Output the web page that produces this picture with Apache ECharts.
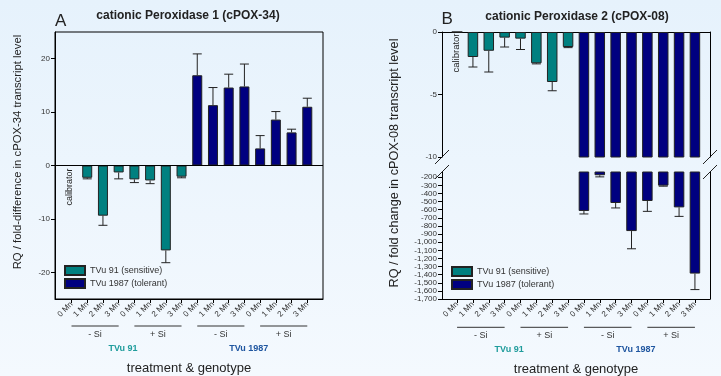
<!DOCTYPE html>
<html>
<head>
<meta charset="utf-8">
<script src="https://cdn.jsdelivr.net/npm/echarts@6/dist/echarts.min.js"></script>
<style>html,body{margin:0;padding:0;}#c{width:721px;height:376px;}</style>
</head>
<body>
<div id="c"></div>
<script>
// ---------- data ----------
const categories = ['0 Mn','1 Mn','2 Mn','3 Mn','0 Mn','1 Mn','2 Mn','3 Mn','0 Mn','1 Mn','2 Mn','3 Mn','0 Mn','1 Mn','2 Mn','3 Mn'];
const treatments = ['- Si', '+ Si', '- Si', '+ Si'];
const genotypes = ['TVu 91', 'TVu 1987'];
const seriesNames = ['TVu 91 (sensitive)', 'TVu 1987 (tolerant)'];

// cPOX-34 (panel A): RQ / fold-difference, TVu 91 = categories 0-7, TVu 1987 = 8-15
const cpox34Sensitive   = [0, -2.3, -9.4, -1.3, -2.6, -2.8, -15.9, -2.1];
const cpox34SensitiveSd = [0, 0.2, 1.8, 1.2, 0.6, 0.6, 2.3, 0.2];
const cpox34Tolerant    = [16.9, 11.3, 14.6, 14.8, 3.2, 8.6, 6.2, 11.0];
const cpox34TolerantSd  = [4.0, 3.3, 2.5, 4.2, 2.4, 1.5, 0.6, 1.6];

// cPOX-08 (panel B): RQ / fold change
const cpox08Sensitive   = [0, -2.0, -1.5, -0.45, -0.53, -2.5, -4.0, -1.2];
const cpox08SensitiveSd = [0, 0.8, 1.7, 0.75, 0.87, 0.05, 0.7, 0.05];
const cpox08Tolerant    = [-615, -175, -517, -863, -492, -303, -571, -1387];
const cpox08TolerantSd  = [37, 20, 61, 218, 128, 7, 111, 197];

// axis ticks
const ticksA = [-20, -10, 0, 10, 20];
const ticksBTop = [0, -5, -10];
const ticksBBottom = [-200,-300,-400,-500,-600,-700,-800,-900,-1000,-1100,-1200,-1300,-1400,-1500,-1600,-1700];
const catIdx = categories.map((c, i) => i);

// ---------- styles ----------
const FONT = '"Liberation Sans", Arial, Helvetica, sans-serif';
const TEAL = '#008080';
const NAVY = '#000080';
const INK = '#222';

const barData = (vals, off) => vals.map((v, i) => [i + off, v]);
const errData = (vals, sds, off) => vals.map((v, i) => [i + off, v, v + Math.sign(v) * sds[i]]).filter((d, i) => sds[i] > 0);

function renderErr(params, api) {
  const x = api.value(0), v = api.value(1), e = api.value(2);
  const a = api.coord([x, v]), b = api.coord([x, e]);
  const cap = 4.5;
  return { type: 'group', children: [
    { type: 'line', shape: { x1: a[0], y1: a[1], x2: b[0], y2: b[1] }, style: { stroke: INK, lineWidth: 1 } },
    { type: 'line', shape: { x1: b[0] - cap, y1: b[1], x2: b[0] + cap, y2: b[1] }, style: { stroke: INK, lineWidth: 1 } }
  ]};
}

const lineStyle = { color: '#000', width: 1 };
const labelStyle = { fontSize: 8, color: '#333', fontFamily: FONT };

function catXAxis(gridIndex, min, max) {
  return {
    type: 'value', gridIndex, min, max, position: 'bottom',
    axisLine: { show: true, onZero: false, lineStyle },
    axisTick: { show: true, customValues: catIdx, length: 4, lineStyle },
    axisLabel: Object.assign({ show: true, customValues: catIdx, rotate: 45, margin: 4, formatter: v => categories[v] }, labelStyle),
    splitLine: { show: false }
  };
}
function plainAxis(extra) {
  return Object.assign({
    type: 'value',
    axisLine: { show: true, onZero: false, lineStyle },
    axisTick: { show: false }, axisLabel: { show: false }, splitLine: { show: false }
  }, extra);
}
function valYAxis(gridIndex, min, max, ticks) {
  return {
    type: 'value', gridIndex, min, max, position: 'left',
    axisLine: { show: true, onZero: false, lineStyle },
    axisTick: { show: true, customValues: ticks, length: 4, lineStyle },
    axisLabel: Object.assign({ show: true, customValues: ticks, margin: 5 }, labelStyle),
    splitLine: { show: false }
  };
}

const barCommon = (name, color, xi, yi, data, bw) => ({
  type: 'bar', name, xAxisIndex: xi, yAxisIndex: yi, data,
  barWidth: bw, barGap: '-100%', clip: true, silent: true,
  itemStyle: { color, borderColor: '#222', borderWidth: 1 },
  animation: false
});
const errCommon = (xi, yi, data) => ({
  type: 'custom', xAxisIndex: xi, yAxisIndex: yi, data, renderItem: renderErr,
  clip: true, silent: true, z: 3, animation: false
});

const chart = echarts.init(document.getElementById('c'), null, { renderer: 'canvas' });

const option = {
  animation: false,
  backgroundColor: { type: 'linear', x: 0, y: 0, x2: 0, y2: 1, colorStops: [
    { offset: 0, color: '#e6f2fc' }, { offset: 1, color: '#f4f9fe' } ] },
  textStyle: { fontFamily: FONT },
  grid: [
    { left: 55, top: 32, width: 268, height: 267, show: true, borderColor: '#000', borderWidth: 1, backgroundColor: 'transparent', outerBoundsMode: 'none' },
    { left: 442, top: 32, width: 268, height: 125, outerBoundsMode: 'none' },
    { left: 442, top: 172, width: 268, height: 127, outerBoundsMode: 'none' }
  ],
  xAxis: [
    catXAxis(0, -1.05, 16),
    plainAxis({ gridIndex: 1, min: -0.95, max: 15.95, position: 'top' }),
    catXAxis(2, -0.95, 15.95)
  ],
  yAxis: [
    valYAxis(0, -25, 25, ticksA),
    valYAxis(1, -10, 0, ticksBTop),
    plainAxis({ gridIndex: 1, min: -10, max: 0, position: 'right' }),
    valYAxis(2, -1700, -135, ticksBBottom),
    plainAxis({ gridIndex: 2, min: -1700, max: -135, position: 'right' })
  ],
  legend: [
    { left: 64, top: 265, orient: 'vertical', itemWidth: 20, itemHeight: 9, itemGap: 2, icon: 'rect',
      data: seriesNames, textStyle: { fontSize: 9, color: '#333', fontFamily: FONT }, selectedMode: false, padding: 0 },
    { left: 451, top: 266, orient: 'vertical', itemWidth: 20, itemHeight: 9, itemGap: 2, icon: 'rect',
      data: seriesNames, textStyle: { fontSize: 9, color: '#333', fontFamily: FONT }, selectedMode: false, padding: 0 }
  ],
  series: [
    Object.assign(barCommon(seriesNames[0], TEAL, 0, 0, barData(cpox34Sensitive, 0), 10), {
      markLine: { silent: true, symbol: ['none', 'none'], label: { show: false },
        lineStyle: { color: '#000', type: 'solid', width: 1 }, data: [{ yAxis: 0 }], animation: false }
    }),
    barCommon(seriesNames[1], NAVY, 0, 0, barData(cpox34Tolerant, 8), 10),
    errCommon(0, 0, errData(cpox34Sensitive, cpox34SensitiveSd, 0)),
    errCommon(0, 0, errData(cpox34Tolerant, cpox34TolerantSd, 8)),

    barCommon(seriesNames[0], TEAL, 1, 1, barData(cpox08Sensitive, 0), 10.5),
    barCommon(seriesNames[1], NAVY, 1, 1, barData(cpox08Tolerant, 8), 10.5),
    errCommon(1, 1, errData(cpox08Sensitive, cpox08SensitiveSd, 0)),

    barCommon(seriesNames[1], NAVY, 2, 3, barData(cpox08Tolerant, 8), 10.5),
    errCommon(2, 3, errData(cpox08Tolerant, cpox08TolerantSd, 8))
  ]
};
chart.setOption(option);

// ---------- annotations derived from axes ----------
const gx = (xi, v) => chart.convertToPixel({ xAxisIndex: xi }, v);
const gy = (yi, v) => chart.convertToPixel({ yAxisIndex: yi }, v);
const txt = (x, y, text, o) => ({ type: 'text', x, y, rotation: (o && o.rotation) || 0, silent: true,
  style: { text, fill: (o && o.fill) || INK, font: (o && o.font) || ('9px ' + FONT),
    align: (o && o.align) || 'center', verticalAlign: (o && o.verticalAlign) || 'middle' } });
const seg = (x1, y1, x2, y2, color) => ({ type: 'line', silent: true,
  shape: { x1, y1, x2, y2 }, style: { stroke: color || '#222', lineWidth: 1 } });

const g = [];
// titles
g.push(txt(188, 16, 'cationic Peroxidase 1 (cPOX-34)', { font: 'bold 12px ' + FONT }));
g.push(txt(577, 16.5, 'cationic Peroxidase 2 (cPOX-08)', { font: 'bold 12px ' + FONT }));
g.push(txt(55, 21, 'A', { font: '17px ' + FONT, align: 'left' }));
g.push(txt(441.5, 19.5, 'B', { font: '17px ' + FONT, align: 'left' }));
// y names
g.push(txt(18, 152, 'RQ / fold-difference in cPOX-34 transcript level', { font: '11.3px ' + FONT, rotation: Math.PI / 2 }));
g.push(txt(394, 163, 'RQ / fold change in cPOX-08 transcript level', { font: '12.7px ' + FONT, rotation: Math.PI / 2 }));
// calibrator
g.push(txt(gx(0, 0) - 1.5, gy(0, 0) + 3, 'calibrator', { rotation: Math.PI / 2, align: 'right', font: '9px ' + FONT }));
g.push(txt(gx(1, 0) - 1, gy(1, 0) + 1.5, 'calibrator', { rotation: Math.PI / 2, align: 'right', font: '9.5px ' + FONT }));
// group lines and labels
[[0, 326], [2, 327.3]].forEach(([xi, ly]) => {
  treatments.forEach((t, k) => {
    const a = gx(xi, k * 4), b = gx(xi, k * 4 + 3);
    g.push(seg(a, ly, b, ly, '#333'));
    g.push(txt((a + b) / 2, ly + 8.5, t, { font: '9px ' + FONT, fill: '#333' }));
  });
  g.push(txt(gx(xi, 3.5) - 3.5, ly + 22.5, genotypes[0], { font: 'bold 9px ' + FONT, fill: '#1f9c9c' }));
  g.push(txt(gx(xi, 11.5) - 3.5, ly + 22.5, genotypes[1], { font: 'bold 9px ' + FONT, fill: '#1f56a0' }));
  g.push(txt((gx(xi, -0.95 + (xi === 0 ? -0.1 : 0)) + gx(xi, xi === 0 ? 16 : 15.95)) / 2, ly + 42.5, 'treatment & genotype', { font: '13px ' + FONT, fill: '#222' }));
});
// axis break marks (panel B)
const brkTop = gy(1, -10), brkBot = gy(3, -135);
[442, 710].forEach(x => {
  [brkTop, brkBot].forEach(y => g.push(seg(x - 7, y + 7, x + 7, y - 7, '#222')));
});
chart.setOption({ graphic: { elements: g } });
</script>
</body>
</html>
